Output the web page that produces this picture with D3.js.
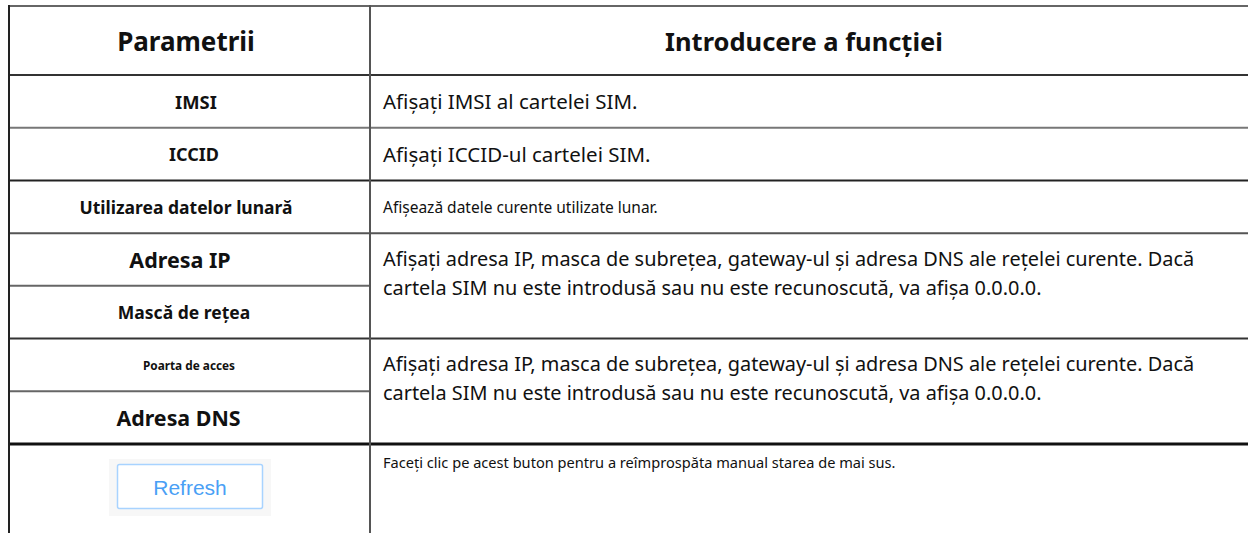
<!DOCTYPE html>
<html><head><meta charset="utf-8">
<script src="https://cdn.jsdelivr.net/npm/d3@7"></script>
<style>html,body{margin:0;padding:0;background:#fff;overflow:hidden}</style>
</head><body>
<script>
const headers = ["Parametrii", "Introducere a funcției"];
const params = ["IMSI", "ICCID", "Utilizarea datelor lunară", "Adresa IP", "Mască de rețea", "Poarta de acces", "Adresa DNS", "Refresh"];
const descLines = [
  ["Afișați IMSI al cartelei SIM."],
  ["Afișați ICCID-ul cartelei SIM."],
  ["Afișează datele curente utilizate lunar."],
  ["Afișați adresa IP, masca de subrețea, gateway-ul și adresa DNS ale rețelei curente. Dacă", "cartela SIM nu este introdusă sau nu este recunoscută, va afișa 0.0.0.0."],
  ["Afișați adresa IP, masca de subrețea, gateway-ul și adresa DNS ale rețelei curente. Dacă", "cartela SIM nu este introdusă sau nu este recunoscută, va afișa 0.0.0.0."],
  ["Faceți clic pe acest buton pentru a reîmprospăta manual starea de mai sus."]
];
const descStart = [0, 1, 2, 3, 5, 7];
const descSpan  = [1, 1, 1, 2, 2, 1];

// styles
const headFont = [26, 25.5];
const headCx = [186, 804];
const paramFont = [18.4, 18, 17.5, 21.5, 17.5, 11.8, 21.4, 21];
const paramCx = [196, 194, 186, 180, 184, 189, 178.5, 190];
const descFont = [20.5, 20.5, 15.5, 19.9, 19.9, 14.6];
const W = 1248, H = 533;
const xL = 9, xM = 370, xR = 1252;

const svg = d3.select("body").append("svg").attr("width", W).attr("height", H)
  .style("font-family", "'Noto Sans', sans-serif");
svg.append("rect").attr("width", W).attr("height", H).attr("fill", "#fff");

const y = d3.scaleLinear().domain([0, 7]).range([75, 444]);
const headTop = 6;
const rowH = y(1) - y(0);

// header text
headers.forEach((h, i) => {
  svg.append("text").attr("x", headCx[i]).attr("y", (headTop + y(0)) / 2)
    .attr("text-anchor", "middle").attr("dominant-baseline", "central")
    .attr("font-weight", "bold").attr("font-size", headFont[i]).attr("fill", "#111").text(h);
});

// param labels
params.forEach((p, i) => {
  if (p === "Refresh") {
    const cx = paramCx[i];
    const cy = y(i) + 43;
    svg.append("rect").attr("x", cx - 81).attr("y", cy - 28).attr("width", 162).attr("height", 57).attr("fill", "#f7f7f7");
    svg.append("rect").attr("x", cx - 72.5).attr("y", cy - 22.5).attr("width", 145).attr("height", 44).attr("rx", 2)
      .attr("fill", "#fff").attr("stroke", "#a8d3ff").attr("stroke-width", 1.5);
    svg.append("text").attr("x", cx).attr("y", cy).attr("text-anchor", "middle").attr("dominant-baseline", "central")
      .attr("font-family", "'Liberation Sans', Arial, sans-serif").attr("font-size", paramFont[i]).attr("fill", "#4a9ff5").text(p);
  } else {
    svg.append("text").attr("x", paramCx[i]).attr("y", y(i) + rowH / 2)
      .attr("text-anchor", "middle").attr("dominant-baseline", "central")
      .attr("font-weight", "bold").attr("font-size", paramFont[i]).attr("fill", "#111").text(p);
  }
});

// descriptions
descLines.forEach((lines, k) => {
  const top = y(descStart[k]);
  const last = k === descLines.length - 1;
  lines.forEach((ln, j) => {
    let cy;
    if (last) cy = top + 18;
    else if (descSpan[k] === 1) cy = top + rowH / 2;
    else cy = top + 25 + j * 29;
    svg.append("text").attr("x", 383).attr("y", cy).attr("dominant-baseline", "central")
      .attr("font-size", descFont[k]).attr("fill", "#111").text(ln);
  });
});

// grid lines
const hLines = [
  {y: headTop, x1: xL, x2: xR, c: "#666", w: 2},
  {y: y(0), x1: xL, x2: xR, c: "#333", w: 2},
  {y: y(1), x1: xL, x2: xR, c: "#777", w: 2},
  {y: y(2), x1: xL, x2: xR, c: "#222", w: 2},
  {y: y(3), x1: xL, x2: xR, c: "#555", w: 2},
  {y: y(4), x1: xL, x2: xM, c: "#666", w: 2},
  {y: y(5), x1: xL, x2: xR, c: "#333", w: 2},
  {y: y(6), x1: xL, x2: xM, c: "#666", w: 2},
  {y: y(7), x1: xL, x2: xR, c: "#111", w: 3}
];
svg.selectAll("line.h").data(hLines).join("line").attr("class", "h")
  .attr("x1", d => d.x1).attr("x2", d => d.x2).attr("y1", d => d.y).attr("y2", d => d.y)
  .attr("stroke", d => d.c).attr("stroke-width", d => d.w);
[xL, xM].forEach((x, i) => {
  svg.append("line").attr("x1", x).attr("x2", x).attr("y1", headTop - 1).attr("y2", H)
    .attr("stroke", i === 0 ? "#222" : "#555").attr("stroke-width", 2);
});
</script>
</body></html>
